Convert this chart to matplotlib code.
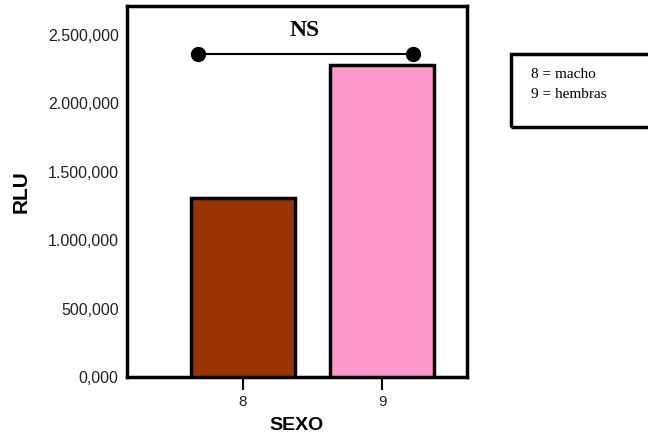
import matplotlib.pyplot as plt
from matplotlib.patches import Rectangle

sexo = [8, 9]
rlu = [1308000, 2281000]
colores = ['#993300', '#FF99CC']
yticks = [0, 500000, 1000000, 1500000, 2000000, 2500000]
ytick_labels = ['0,000', '500,000', '1.000,000', '1.500,000', '2.000,000', '2.500,000']
leyenda = ['8 = macho', '9 = hembras']

plt.rcParams['font.family'] = ['Liberation Sans', 'DejaVu Sans']

fig = plt.figure(figsize=(6.48, 4.43), dpi=100)
ax = fig.add_axes([127/648, 1 - 377/443, 340/648, 371/443])

ax.bar(sexo, rlu, width=0.75, color=colores, edgecolor='black', linewidth=2.5, zorder=3)

ax.set_xlim(7.165, 9.61)
ax.set_ylim(0, 2712000)
ax.set_xticks(sexo)
ax.set_xticklabels([str(s) for s in sexo], fontsize=11, color='#222222')
ax.set_yticks(yticks)
ax.set_yticklabels(ytick_labels, fontsize=11.5, color='#222222')
ax.tick_params(axis='y', length=0, pad=6)
ax.tick_params(axis='x', length=9, width=1.5, pad=4)
for s in ax.spines.values():
    s.set_linewidth(2.5)

ax.set_ylabel('RLU', fontsize=15, fontweight='bold', labelpad=12)
ax.set_xlabel('SEXO', fontsize=14, fontweight='bold', labelpad=6)

# NS comparison
ax.plot([7.676, 9.223], [2361000, 2361000], color='black', lw=1.5,
        marker='o', markersize=10, zorder=4, clip_on=False)
ax.text(8.445, 2530000, 'NS', ha='center', va='center', fontsize=17,
        fontweight='bold', family='Liberation Serif')

# legend box
fig.patches.append(Rectangle((511/648, 1 - 127/443), 140/648, 73/443,
                             transform=fig.transFigure, fill=False,
                             edgecolor='black', linewidth=2.5))
fig.text(531/648, 1 - 75/443, leyenda[0], fontsize=11, family='Liberation Serif', va='center')
fig.text(531/648, 1 - 94/443, leyenda[1], fontsize=11, family='Liberation Serif', va='center')

fig.savefig('out.png', dpi=100)
